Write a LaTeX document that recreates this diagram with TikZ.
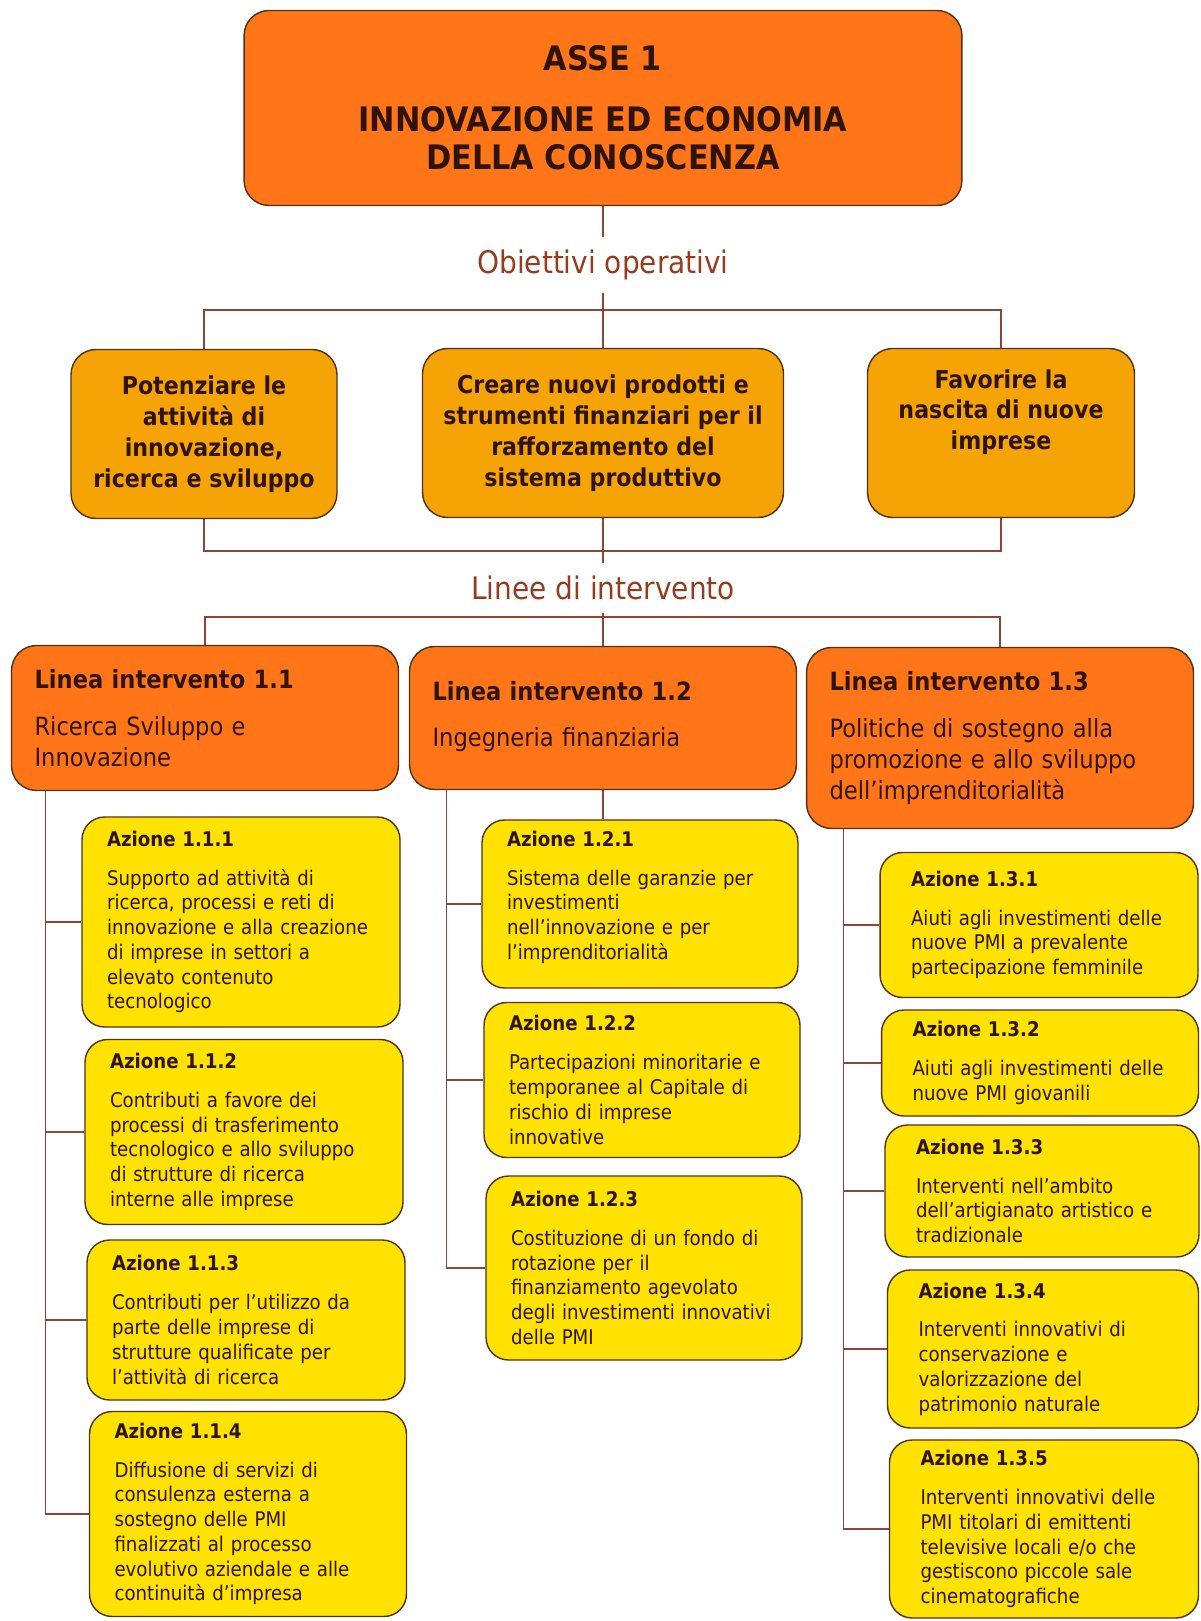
\documentclass[tikz,border=0pt]{standalone}
\usepackage{fontspec}
\setmainfont{DejaVuSansCondensed.ttf}[BoldFont=DejaVuSansCondensed-Bold.ttf]
\usepackage{tikz}

\definecolor{asseorange}{RGB}{255,117,24}
\definecolor{obgold}{RGB}{245,163,5}
\definecolor{azyellow}{RGB}{255,226,0}
\definecolor{linkbrown}{RGB}{140,70,50}
\definecolor{edgebrown}{RGB}{80,50,20}
\definecolor{labelbrown}{RGB}{150,60,30}
\definecolor{darktext}{RGB}{45,20,5}

\begin{document}
\begin{tikzpicture}[
    x=0.02cm, y=-0.02cm,
    asse/.style={rectangle, rounded corners=0.5cm, draw=edgebrown, line width=0.8pt, fill=asseorange, align=center, text=darktext, font=\bfseries\fontsize{19.2}{21.6}\selectfont, minimum width=14.36cm, minimum height=3.9cm},
    obiettivo/.style={rectangle, rounded corners=0.5cm, draw=edgebrown, line width=0.8pt, fill=obgold, align=center, text=darktext, font=\bfseries\fontsize{14}{17.6}\selectfont, minimum height=3.38cm},
    linea/.style={rectangle, rounded corners=0.5cm, draw=edgebrown, line width=0.8pt, fill=asseorange, align=left, text=darktext, font=\fontsize{14.3}{17.6}\selectfont, inner xsep=0.46cm, text width=6.82cm, minimum width=7.74cm},
    azione/.style={rectangle, rounded corners=0.45cm, draw=edgebrown, line width=0.8pt, fill=azyellow, align=left, text=darktext, font=\fontsize{11.5}{14.1}\selectfont, inner xsep=0pt},
    sezione/.style={font=\fontsize{17.7}{20}\selectfont, text=labelbrown, inner sep=7pt},
    link/.style={draw=linkbrown, line width=0.7pt}
]
\useasboundingbox (0,0) rectangle (1200,1621);

% Asse
\node[asse] (asse) at (603,108) {ASSE 1\\[13pt]INNOVAZIONE ED ECONOMIA\\DELLA CONOSCENZA};
\node[sezione] (obtitolo) at (603,265) {Obiettivi operativi};

% Obiettivi operativi
\node[obiettivo, minimum width=5.32cm] (obA) at (204,434) {Potenziare le\\attività di\\innovazione,\\ricerca e sviluppo};
\node[obiettivo, minimum width=7.22cm] (obB) at (603,433) {Creare nuovi prodotti e\\strumenti finanziari per il\\rafforzamento del\\sistema produttivo};
\node[obiettivo, minimum width=5.34cm] (obC) at (1001,433) {Favorire la\\nascita di nuove\\imprese\\[9pt]~};
\coordinate (bar1) at (603,310);
\coordinate (bar2) at (603,551);
\node[sezione] (lintitolo) at (603,588) {Linee di intervento};
\coordinate (bar3) at (603,617);

% Linee di intervento
\node[linea, minimum height=2.9cm] (L1) at (205,718) {\textbf{Linea intervento 1.1}\\[9pt]Ricerca Sviluppo e\\Innovazione};
\node[linea, minimum height=2.86cm] (L2) at (603,718) {\textbf{Linea intervento 1.2}\\[9pt]Ingegneria finanziaria\\[-13pt]~};
\node[linea, minimum height=3.62cm] (L3) at (1000,738) {\textbf{Linea intervento 1.3}\\[9pt]Politiche di sostegno alla\\promozione e allo sviluppo\\dell’imprenditorialità};

% Azioni 1.1
\node[azione, text width=5.36cm, minimum width=6.36cm, minimum height=4.2cm] (a111) at (241,922) {\textbf{Azione 1.1.1}\\[8pt]Supporto ad attività di\\ricerca, processi e reti di\\innovazione e alla creazione\\di imprese in settori a\\elevato contenuto\\tecnologico};
\node[azione, text width=5.36cm, minimum width=6.36cm, minimum height=3.7cm] (a112) at (244,1132) {\textbf{Azione 1.1.2}\\[8pt]Contributi a favore dei\\processi di trasferimento\\tecnologico e allo sviluppo\\di strutture di ricerca\\interne alle imprese};
\node[azione, text width=5.36cm, minimum width=6.36cm, minimum height=3.2cm] (a113) at (246,1320) {\textbf{Azione 1.1.3}\\[8pt]Contributi per l’utilizzo da\\parte delle imprese di\\strutture qualificate per\\l’attività di ricerca};
\node[azione, text width=5.34cm, minimum width=6.34cm, minimum height=4.1cm] (a114) at (248,1514) {\textbf{Azione 1.1.4}\\[8pt]Diffusione di servizi di\\consulenza esterna a\\sostegno delle PMI\\finalizzati al processo\\evolutivo aziendale e alle\\continuità d’impresa};

% Azioni 1.2
\node[azione, text width=5.32cm, minimum width=6.32cm, minimum height=3.36cm] (a121) at (640,904) {\textbf{Azione 1.2.1}\\[8pt]Sistema delle garanzie per\\investimenti\\nell’innovazione e per\\l’imprenditorialità\\[-4pt]~};
\node[azione, text width=5.32cm, minimum width=6.32cm, minimum height=3.1cm] (a122) at (642,1080) {\textbf{Azione 1.2.2}\\[8pt]Partecipazioni minoritarie e\\temporanee al Capitale di\\rischio di imprese\\innovative};
\node[azione, text width=5.32cm, minimum width=6.32cm, minimum height=3.68cm] (a123) at (644,1268) {\textbf{Azione 1.2.3}\\[8pt]Costituzione di un fondo di\\rotazione per il\\finanziamento agevolato\\degli investimenti innovativi\\delle PMI};

% Azioni 1.3
\node[azione, text width=5.12cm, minimum width=6.36cm, minimum height=2.9cm] (a131) at (1039,925) {\textbf{Azione 1.3.1}\\[8pt]Aiuti agli investimenti delle\\nuove PMI a prevalente\\partecipazione femminile};
\node[azione, text width=5.1cm, minimum width=6.34cm, minimum height=2.12cm] (a132) at (1040,1063) {\textbf{Azione 1.3.2}\\[8pt]Aiuti agli investimenti delle\\nuove PMI giovanili};
\node[azione, text width=5.04cm, minimum width=6.28cm, minimum height=2.64cm] (a133) at (1042,1191) {\textbf{Azione 1.3.3}\\[8pt]Interventi nell’ambito\\dell’artigianato artistico e\\tradizionale};
\node[azione, text width=4.98cm, minimum width=6.22cm, minimum height=3.16cm] (a134) at (1043,1349) {\textbf{Azione 1.3.4}\\[8pt]Interventi innovativi di\\conservazione e\\valorizzazione del\\patrimonio naturale};
\node[azione, text width=4.94cm, minimum width=6.18cm, minimum height=3.56cm] (a135) at (1044,1529) {\textbf{Azione 1.3.5}\\[8pt]Interventi innovativi delle\\PMI titolari di emittenti\\televisive locali e/o che\\gestiscono piccole sale\\cinematografiche};

% Connettori - asse e obiettivi
\draw[link] (asse) -- (obtitolo);
\draw[link] (obtitolo) -- (obB);
\draw[link] (obA) |- (bar1) -| (obC);
\draw[link] (obA) |- (bar2) -| (obC);
\draw[link] (obB) -- (lintitolo);
\draw[link] (lintitolo) -- (L2);
\draw[link] (L1) |- (bar3) -| (L3);

% Connettori - linea 1.1
\coordinate (t1) at ([xshift=0.7cm]L1.south west);
\draw[link] (t1) |- (a114);
\draw[link] (t1 |- a111) -- (a111);
\draw[link] (t1 |- a112) -- (a112);
\draw[link] (t1 |- a113) -- (a113);

% Connettori - linea 1.2
\coordinate (t2) at ([xshift=0.76cm]L2.south west);
\draw[link] (L2) -- (L2 |- a121.north);
\draw[link] (t2) |- (a123);
\draw[link] (t2 |- a121) -- (a121);
\draw[link] (t2 |- a122) -- (a122);

% Connettori - linea 1.3
\coordinate (t3) at ([xshift=0.76cm]L3.south west);
\draw[link] (t3) |- (a135);
\draw[link] (t3 |- a131) -- (a131);
\draw[link] (t3 |- a132) -- (a132);
\draw[link] (t3 |- a133) -- (a133);
\draw[link] (t3 |- a134) -- (a134);

\end{tikzpicture}
\end{document}
